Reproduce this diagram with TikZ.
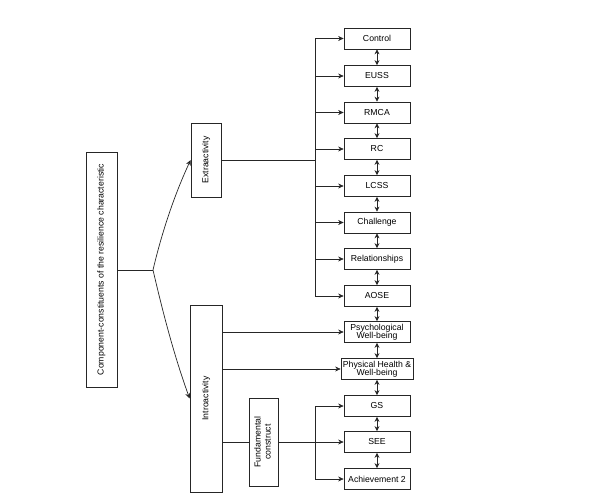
\documentclass[tikz,border=0pt]{standalone}
\usepackage{fontspec}
\usepackage{graphicx}
\setmainfont{Liberation Sans}
\usetikzlibrary{arrows.meta}
\begin{document}
\begin{tikzpicture}[x=1pt,y=-1pt,
  box/.style={draw=black!85, line width=0.7pt, inner sep=1pt, align=center,
    font=\fontsize{8.7}{9.5}\selectfont, minimum width=66pt, minimum height=21pt},
  vbox/.style={draw=black!85, line width=0.7pt, inner sep=0pt, align=center,
    font=\fontsize{8.7}{10}\selectfont},
  conn/.style={draw=black!85, line width=0.7pt},
  arr/.style={conn, -{Stealth[length=5.5pt,width=5pt]}},
  darr/.style={conn, {Stealth[length=5pt,width=5pt]}-{Stealth[length=5pt,width=5pt]}}
]
\useasboundingbox (0,0) rectangle (590,501);
% vertical boxes
\node[vbox, minimum width=31pt, minimum height=235pt] (main) at (101.5,269.5)
  {\rotatebox{90}{Component-constituents of the resilience characteristic}};
\node[vbox, minimum width=30pt, minimum height=74pt] (extra) at (206,160)
  {\rotatebox{90}{Extraactivity}};
\node[vbox, minimum width=32pt, minimum height=187pt] (intro) at (206,398.5)
  {\rotatebox{90}{Introactivity}};
\node[vbox, minimum width=29pt, minimum height=88pt] (fund) at (263.5,442)
  {\rotatebox{90}{\begin{tabular}{@{}c@{}}Fundamental\\construct\end{tabular}}};
% right column
\node[box] (control) at (377,38.5) {Control};
\node[box] (euss) at (377,76) {EUSS};
\node[box] (rmca) at (377,112.5) {RMCA};
\node[box] (rc) at (377,149) {RC};
\node[box] (lcss) at (377,186) {LCSS};
\node[box] (chal) at (377,222.5) {Challenge};
\node[box] (rel) at (377,259) {Relationships};
\node[box] (aose) at (377,296) {AOSE};
\node[box] (psych) at (377,332) {Psychological\\[-1pt]Well-being};
\node[box, minimum width=72pt] (phys) at (377,369) {Physical Health \&\\[-1pt]Well-being};
\node[box] (gs) at (377,406) {GS};
\node[box] (see) at (377,442) {SEE};
\node[box] (ach) at (377,479) {Achievement 2};
% junction and branches
\coordinate (jn) at (153,270);
\coordinate (tx) at (315,0);
\draw[conn] (main.east |- jn) -- (jn);
\draw[arr] (jn) .. controls (160,240) and (172,200) .. (extra.west);
\draw[arr] (jn) .. controls (160,300) and (172,350) .. (intro.west);
% extraactivity trunk
\draw[conn] (extra.east) -- (extra.east -| tx);
\draw[conn] (control.west -| tx) -- (aose.west -| tx);
\foreach \n in {control,euss,rmca,rc,lcss,chal,rel,aose}
  \draw[arr] (\n.west -| tx) -- (\n.west);
% introactivity
\draw[arr] (psych.west -| intro.east) -- (psych.west);
\draw[arr] (phys.west -| intro.east) -- (phys.west);
\draw[conn] (fund.west -| intro.east) -- (fund.west);
\draw[arr] (fund.east) -- (see.west);
\draw[conn] (gs.west -| tx) -- (ach.west -| tx);
\draw[arr] (gs.west -| tx) -- (gs.west);
\draw[arr] (ach.west -| tx) -- (ach.west);
% double arrows between boxes
\draw[darr] (control.south) -- (euss.north);
\draw[darr] (euss.south) -- (rmca.north);
\draw[darr] (rmca.south) -- (rc.north);
\draw[darr] (rc.south) -- (lcss.north);
\draw[darr] (lcss.south) -- (chal.north);
\draw[darr] (chal.south) -- (rel.north);
\draw[darr] (rel.south) -- (aose.north);
\draw[darr] (aose.south) -- (psych.north);
\draw[darr] (psych.south) -- (phys.north);
\draw[darr] (phys.south) -- (gs.north);
\draw[darr] (gs.south) -- (see.north);
\draw[darr] (see.south) -- (ach.north);
\end{tikzpicture}
\end{document}
